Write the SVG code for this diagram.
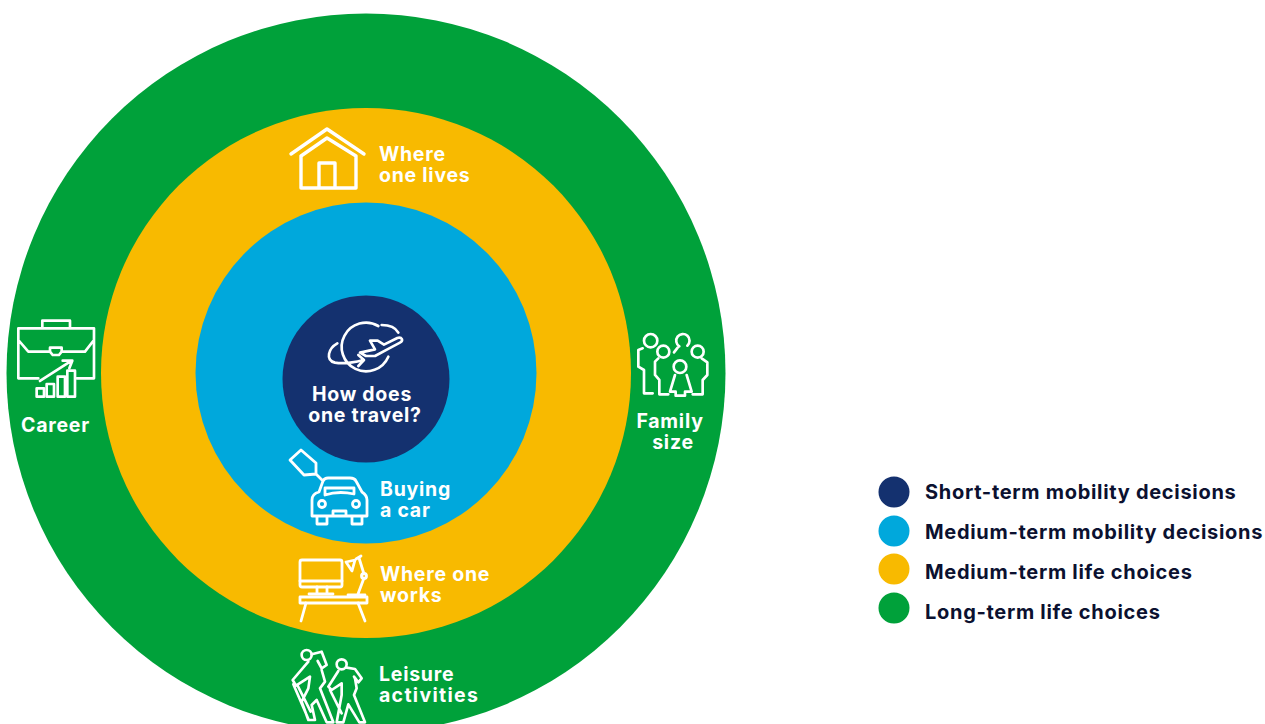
<svg xmlns="http://www.w3.org/2000/svg" width="1265" height="724" viewBox="0 0 1265 724">
<style>
text{font-family:"Inter","Open Sans","Liberation Sans",sans-serif;font-weight:700;font-size:19.5px;letter-spacing:.75px}
.w{fill:#fff}
.c{text-anchor:middle}
.l{fill:#0b1130;font-size:20px;letter-spacing:.7px}
.i{fill:none;stroke:#fff;stroke-width:2.8;stroke-linejoin:round;stroke-linecap:round}
.z{fill:none;stroke:#fff;stroke-width:8;stroke-linejoin:round;stroke-linecap:round}
.t{stroke-width:3.4}
</style>
<rect width="1265" height="724" fill="#fff"/>
<g id="ring-long"><circle cx="366" cy="373" r="359.5" fill="#00a13a"/></g>
<g id="ring-life"><circle cx="366" cy="373" r="265" fill="#f8ba00"/></g>
<g id="ring-mobility"><circle cx="366" cy="373" r="170.5" fill="#00a8dc"/></g>
<g id="center">
<circle cx="366" cy="379" r="83.5" fill="#14316f"/>
<g transform="translate(310 310) scale(.3333)">
<path class="z" d="M205 48A73 73 0 1 0 235 140M215 45C240 45 258 55 265 68M82 100C55 115 45 150 75 158C100 162 130 158 160 150M145 135L162 150L145 168"/>
<path class="z" d="M180 92H203L222 104L262 84C276 80 282 92 270 98L232 118L195 138H168L150 128L195 118Z"/>
</g>
<text class="w c"><tspan x="362" y="401">How does</tspan><tspan x="365" y="422">one travel?</tspan></text>
</g>
<g id="where-lives">
<path class="i t" d="M291 154L327 129L364 154M301 156V188H356V156L327 138L301 156M319 188V163H335V188"/>
<text class="w"><tspan x="379" y="161">Where</tspan><tspan x="379" y="182">one lives</tspan></text>
</g>
<g id="career">
<g transform="translate(10 310) scale(.3333)">
<path class="z" d="M97 55V32H180V55M85 205H25V55H252V205H200M25 90L55 125H120M155 125H225L252 90M120 113H155V125L147 135H128L120 125ZM90 213L185 152M158 152H187L178 175"/>
<rect class="z" x="80" y="235" width="22" height="25"/><rect class="z" x="110" y="222" width="22" height="38"/><rect class="z" x="143" y="200" width="22" height="60"/><rect class="z" x="172" y="182" width="23" height="78"/>
</g>
<text class="w" x="21" y="432">Career</text>
</g>
<g id="family">
<g transform="translate(630 325) scale(.3333)">
<circle class="z" cx="62" cy="47" r="20"/><circle class="z" cx="100" cy="80" r="18"/><circle class="z" cx="203" cy="80" r="18"/><circle class="z" cx="150" cy="125" r="19"/>
<path class="z" d="M148 64A20 20 0 1 1 172 62M132 82L143 68M38 70L25 75V125L42 135V205H68M85 100L75 110V150L88 165V208H115M215 100L232 112V150L218 165V208H188M135 150L120 200H137V212H165V200H185L170 150"/>
</g>
<text class="w c"><tspan x="670" y="428">Family</tspan><tspan x="673" y="449">size</tspan></text>
</g>
<g id="car">
<path class="i" d="M301 450L290 460L304 475L316 474L316 463ZM316 474L322 480"/>
<path class="i" d="M319 492L323 481C324 479 326 478 328 478H350C353 478 355 479 356 481L362 492C365 494 367 497 367 500V516H312V500C312 496 315 493 319 492ZM325 488H354V494C345 492 334 492 325 495ZM333 516V511H346V516M317 516V524H327V516M352 516V524H362V516"/>
<circle class="i" cx="322" cy="504" r="3.5"/><circle class="i" cx="356" cy="504" r="3.5"/>
<text class="w"><tspan x="380" y="496">Buying</tspan><tspan x="380" y="517">a car</tspan></text>
</g>
<g id="desk">
<rect class="i" x="300" y="560" width="42" height="27" rx="2"/><path class="i" d="M300 581H342M317 587V594M327 587V594M309 594H333M348 595H365M358 594L364 578M364 574L359 558"/>
<path class="i" d="M346 562L355 560L352 571ZM356 559L361 556"/>
<circle class="i" cx="364" cy="576" r="2.5"/>
<rect class="i" x="300" y="597" width="67" height="6"/><path class="i" d="M306 603L301 621M358 603L365 621"/>
<text class="w"><tspan x="380" y="581">Where one</tspan><tspan x="380" y="602">works</tspan></text>
</g>
<g id="leisure">
<g transform="translate(280 645) scale(.3333)">
<circle class="z" cx="80" cy="30" r="15"/><circle class="z" cx="185" cy="58" r="15"/>
<path class="z" d="M95 28L125 20L140 60L125 70L113 48"/>
<path class="z" d="M85 50L38 105L48 122L90 95L85 130L65 170L85 225H105L95 180L110 165L140 232H160L120 130L135 110L125 75M40 118L85 222M52 120L92 200"/>
<path class="z" d="M200 68L225 72L245 100L235 112L222 95"/>
<path class="z" d="M175 78L145 125L155 135L185 115L185 150L170 232H190L205 178L238 232H255L222 150L230 130L225 100M150 135L185 205"/>
</g>
<text class="w"><tspan x="379" y="681">Leisure</tspan><tspan x="379" y="702" style="letter-spacing:1.3px">activities</tspan></text>
</g>
<g id="legend">
<circle cx="894" cy="492" r="15.5" fill="#14316f"/><text class="l" x="925" y="499">Short-term mobility decisions</text>
<circle cx="894" cy="531" r="15.5" fill="#00a8dc"/><text class="l" x="925" y="539">Medium-term mobility decisions</text>
<circle cx="894" cy="569" r="15.5" fill="#f8ba00"/><text class="l" x="925" y="579">Medium-term life choices</text>
<circle cx="894" cy="608" r="15.5" fill="#00a13a"/><text class="l" x="925" y="619">Long-term life choices</text>
</g>
</svg>
